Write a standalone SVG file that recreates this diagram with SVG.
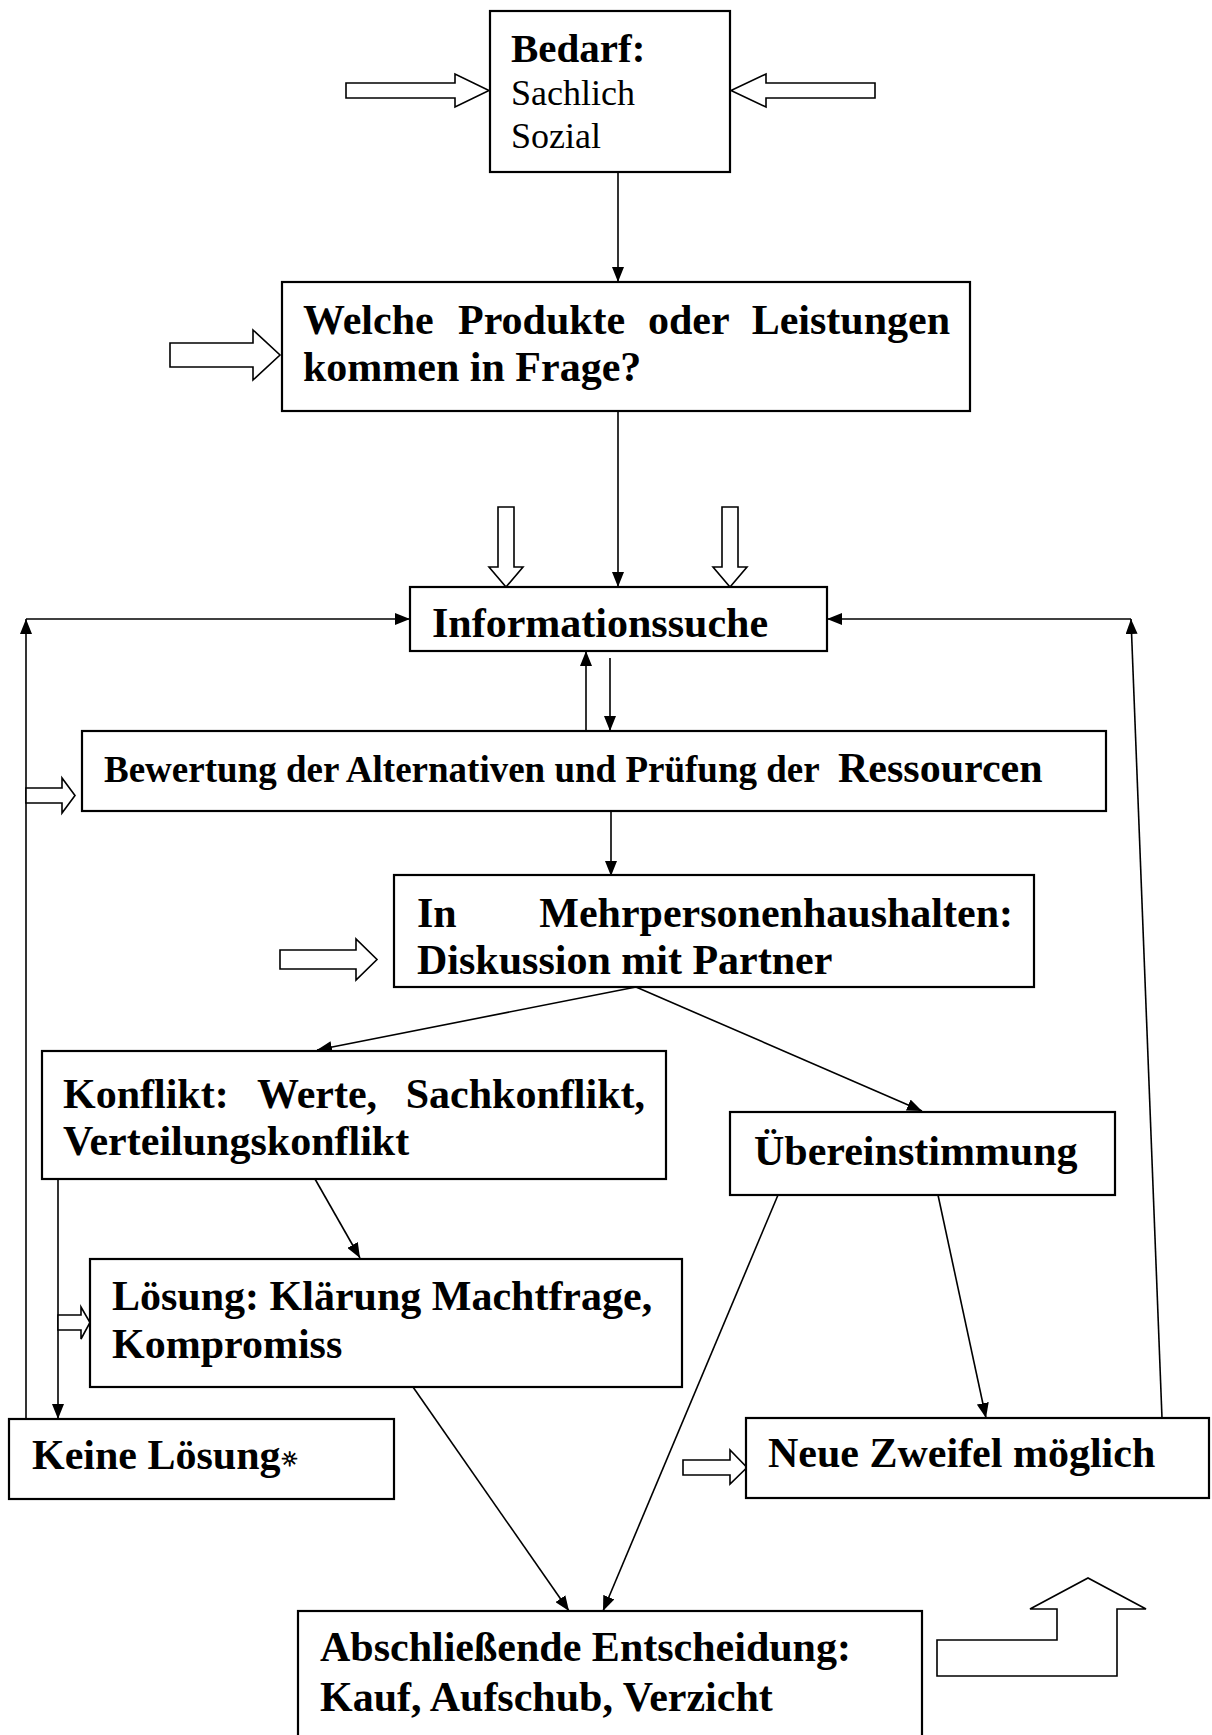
<svg xmlns="http://www.w3.org/2000/svg" width="1212" height="1735" viewBox="0 0 1212 1735">
<style>
.box{fill:#fff;stroke:#000;stroke-width:2.2}
.con{fill:none;stroke:#000;stroke-width:1.6}
.hol{fill:#fff;stroke:#000;stroke-width:1.6;stroke-linejoin:miter}
.t{font-family:"Liberation Serif","Times New Roman",serif;font-weight:bold;font-size:42px;fill:#000}
.r{font-family:"Liberation Serif","Times New Roman",serif;font-weight:normal;font-size:36px;fill:#000}
</style>
<defs>
<marker id="ah" viewBox="0 0 15 12" refX="15" refY="6" markerWidth="15" markerHeight="12" markerUnits="userSpaceOnUse" orient="auto">
<path d="M0,0 L15,6 L0,12 Z" fill="#000"/>
</marker>
</defs>
<rect width="1212" height="1735" fill="#fff"/>

<g id="connectors">
<line class="con" x1="618" y1="172" x2="618" y2="282" marker-end="url(#ah)"/>
<line class="con" x1="618" y1="411" x2="618" y2="587" marker-end="url(#ah)"/>
<line class="con" x1="26" y1="1419" x2="26" y2="619" marker-end="url(#ah)"/>
<line class="con" x1="26" y1="619" x2="410" y2="619" marker-end="url(#ah)"/>
<line class="con" x1="1162" y1="1418" x2="1131" y2="619" marker-end="url(#ah)"/>
<line class="con" x1="1131" y1="619" x2="827" y2="619" marker-end="url(#ah)"/>
<line class="con" x1="586" y1="731" x2="586" y2="651" marker-end="url(#ah)"/>
<line class="con" x1="610" y1="658" x2="610" y2="731" marker-end="url(#ah)"/>
<line class="con" x1="611" y1="802" x2="611" y2="876" marker-end="url(#ah)"/>
<line class="con" x1="636" y1="987" x2="317" y2="1050" marker-end="url(#ah)"/>
<line class="con" x1="636" y1="987" x2="922" y2="1111" marker-end="url(#ah)"/>
<line class="con" x1="315" y1="1179" x2="360" y2="1258" marker-end="url(#ah)"/>
<line class="con" x1="58" y1="1179" x2="58" y2="1419" marker-end="url(#ah)"/>
<line class="con" x1="413" y1="1387" x2="569" y2="1611" marker-end="url(#ah)"/>
<line class="con" x1="778" y1="1195" x2="603" y2="1611" marker-end="url(#ah)"/>
<line class="con" x1="938" y1="1195" x2="986" y2="1418" marker-end="url(#ah)"/>
</g>

<g id="inputs">
<polygon class="hol" points="346,83 455,83 455,74 489,90.5 455,107 455,98 346,98"/>
<polygon class="hol" points="875,83 766,83 766,74 731,90.5 766,107 766,98 875,98"/>
<polygon class="hol" points="170,343 253,343 253,330 280,355 253,380 253,367 170,367"/>
<polygon class="hol" points="498,507 514,507 514,567 523,567 506,587 489,567 498,567"/>
<polygon class="hol" points="722,507 738,507 738,567 747,567 730,587 713,567 722,567"/>
<polygon class="hol" points="26,788 62,788 62,778 75,795.5 62,813 62,803 26,803"/>
<polygon class="hol" points="280,950 356,950 356,939 377,959.5 356,980 356,969 280,969"/>
<polygon class="hol" points="58,1315 81,1315 81,1307 90,1322.5 81,1339 81,1330 58,1330"/>
<polygon class="hol" points="683,1460 730,1460 730,1450 747,1467.5 730,1484 730,1475 683,1475"/>
<polygon class="hol" points="937,1676 937,1640 1057,1640 1057,1609 1030,1609 1088,1578 1146,1609 1117,1609 1117,1676"/>
</g>

<g id="bedarf">
<rect class="box" x="490" y="11" width="240" height="161"/>
<text class="t" x="511" y="62" style="font-size:41px">Bedarf:</text>
<text class="r" x="511" y="105">Sachlich</text>
<text class="r" x="511" y="148">Sozial</text>
</g>

<g id="welche">
<rect class="box" x="282" y="282" width="688" height="129"/>
<text class="t" x="303" y="334">Welche</text>
<text class="t" x="458" y="334">Produkte</text>
<text class="t" x="648" y="334">oder</text>
<text class="t" x="950" y="334" text-anchor="end">Leistungen</text>
<text class="t" x="303" y="381">kommen in Frage?</text>
</g>

<g id="informationssuche">
<rect class="box" x="410" y="587" width="417" height="64"/>
<text class="t" x="432" y="637">Informationssuche</text>
</g>

<g id="bewertung">
<rect class="box" x="82" y="731" width="1024" height="80"/>
<text class="t" x="104" y="782" style="font-size:37px">Bewertung der Alternativen und Prüfung der <tspan x="838" style="font-size:42px">Ressourcen</tspan></text>
</g>

<g id="mehrpersonen">
<rect class="box" x="394" y="875" width="640" height="112"/>
<text class="t" x="417" y="927">In</text>
<text class="t" x="1013" y="927" text-anchor="end">Mehrpersonenhaushalten:</text>
<text class="t" x="417" y="974">Diskussion mit Partner</text>
</g>

<g id="konflikt">
<rect class="box" x="42" y="1051" width="624" height="128"/>
<text class="t" x="63" y="1108">Konflikt:</text>
<text class="t" x="257" y="1108">Werte,</text>
<text class="t" x="645" y="1108" text-anchor="end">Sachkonflikt,</text>
<text class="t" x="63" y="1155">Verteilungskonflikt</text>
</g>

<g id="uebereinstimmung">
<rect class="box" x="730" y="1112" width="385" height="83"/>
<text class="t" x="754" y="1165">Übereinstimmung</text>
</g>

<g id="loesung">
<rect class="box" x="90" y="1259" width="592" height="128"/>
<text class="t" x="112" y="1310">Lösung: Klärung Machtfrage,</text>
<text class="t" x="112" y="1358">Kompromiss</text>
</g>

<g id="keine-loesung">
<rect class="box" x="9" y="1419" width="385" height="80"/>
<text class="t" x="32" y="1469">Keine Lösung<tspan style="font-family:'DejaVu Sans',sans-serif;font-weight:bold;font-size:20px" stroke="#000" stroke-width="0.8" dy="-3">☼</tspan></text>
</g>

<g id="neue-zweifel">
<rect class="box" x="746" y="1418" width="463" height="80"/>
<text class="t" x="768" y="1467">Neue Zweifel möglich</text>
</g>

<g id="abschliessende">
<rect class="box" x="298" y="1611" width="624" height="140"/>
<text class="t" x="320" y="1661">Abschließende Entscheidung:</text>
<text class="t" x="320" y="1711">Kauf, Aufschub, Verzicht</text>
</g>
</svg>
